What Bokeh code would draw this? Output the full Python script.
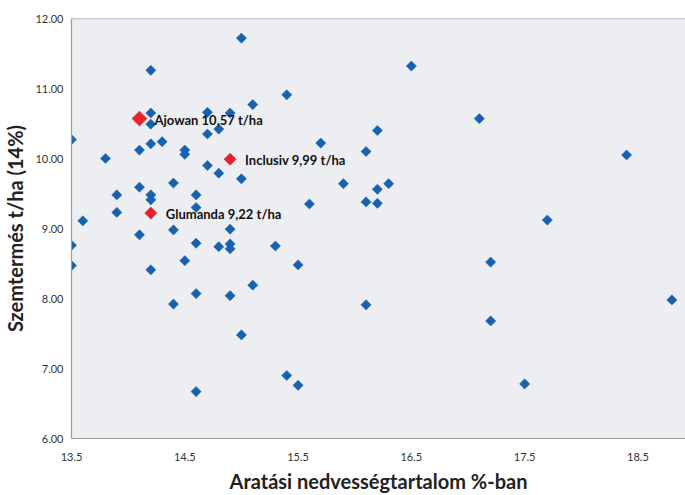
import numpy as np
from bokeh.plotting import figure
from bokeh.models import Range1d, FixedTicker, NumeralTickFormatter, Span, ColumnDataSource
from bokeh.core.properties import value
from bokeh.embed import file_html
from bokeh.resources import INLINE

# ---- data ----
moisture = [15.0, 14.2, 16.5, 15.4, 15.1, 14.7, 14.9, 14.2, 14.2, 17.1,
            14.8, 14.7, 16.2, 13.5, 14.2, 14.3, 15.7, 14.1, 14.5, 14.5,
            16.1, 18.4, 13.8, 14.7, 14.8, 15.0, 15.9, 16.3, 16.2, 14.4,
            14.1, 13.9, 14.2, 14.6, 14.2, 15.6, 16.1, 16.2, 14.6, 13.9,
            17.7, 13.6, 14.9, 14.4, 14.1, 14.6, 13.5, 14.9, 14.9, 14.8,
            15.3, 14.5, 17.2, 13.5, 15.5, 14.2, 15.1, 14.6, 14.9, 14.4,
            16.1, 18.8, 17.2, 15.0, 15.4, 15.5, 17.5, 14.6]
yield_t = [11.72, 11.26, 11.32, 10.91, 10.77, 10.66, 10.65, 10.65, 10.49, 10.57,
           10.42, 10.35, 10.40, 10.27, 10.21, 10.24, 10.22, 10.12, 10.12, 10.06,
           10.10, 10.05, 10.00, 9.90, 9.79, 9.71, 9.64, 9.64, 9.56, 9.65,
           9.59, 9.48, 9.48, 9.48, 9.41, 9.35, 9.38, 9.36, 9.30, 9.23,
           9.12, 9.11, 8.99, 8.98, 8.91, 8.79, 8.76, 8.78, 8.71, 8.74,
           8.75, 8.54, 8.52, 8.47, 8.48, 8.41, 8.19, 8.07, 8.04, 7.92,
           7.91, 7.98, 7.68, 7.48, 6.90, 6.76, 6.78, 6.67]

hl_names = ["Ajowan", "Inclusiv", "Glumanda"]
hl_moisture = [14.1, 14.9, 14.2]
hl_yield = [10.57, 9.99, 9.22]
hl_labels = ["Ajowan 10,57 t/ha", "Inclusiv 9,99 t/ha", "Glumanda 9,22 t/ha"]
hl_sizes = [10.5, 8.5, 8.5]

x_ticks = [13.5, 14.5, 15.5, 16.5, 17.5, 18.5]
y_ticks = [6, 7, 8, 9, 10, 11, 12]

FONT = "Lato"

p = figure(width=685, height=495,
           x_range=Range1d(13.5, 18.92), y_range=Range1d(6, 12),
           min_border_left=71, min_border_right=0, min_border_top=18, min_border_bottom=56,
           output_backend="svg", toolbar_location=None)

p.background_fill_color = "#EDEEF2"
p.border_fill_color = "white"
p.outline_line_color = None
p.xgrid.visible = False
p.ygrid.visible = False

p.add_layout(Span(location=12, dimension="width", line_color="#A8A8A8", line_width=1.5))

blue = ColumnDataSource(dict(x=moisture, y=yield_t))
p.scatter("x", "y", source=blue, marker="square", size=7.2, angle=np.pi / 4,
          fill_color="#1662B0", line_color="#1662B0", line_width=0.5)

red = ColumnDataSource(dict(x=hl_moisture, y=hl_yield, s=hl_sizes, t=hl_labels))
p.scatter("x", "y", source=red, marker="square", size="s", angle=np.pi / 4,
          fill_color="#E8212B", line_color="#C8202A", line_width=0.6)
p.text("x", "y", text="t", source=red, x_offset=15, y_offset=1,
       text_font=value(FONT), text_font_style="bold", text_font_size="13px",
       text_baseline="middle", text_align="left", text_color="#111111")

for ax in (p.xaxis[0], p.yaxis[0]):
    ax.axis_line_color = "#9A9A9A"
    ax.axis_line_width = 1.2
    ax.major_tick_line_color = None
    ax.minor_tick_line_color = None
    ax.major_tick_out = 0
    ax.major_tick_in = 0
    ax.minor_tick_out = 0
    ax.minor_tick_in = 0
    ax.major_label_text_font = FONT
    ax.major_label_text_font_size = "11px"
    ax.major_label_text_color = "#333333"
    ax.axis_label_text_font = FONT
    ax.axis_label_text_font_style = "bold"
    ax.axis_label_text_color = "#222222"

p.xaxis.ticker = FixedTicker(ticks=x_ticks)
p.xaxis.formatter = NumeralTickFormatter(format="0.0")
p.xaxis.major_label_standoff = 14
p.xaxis.axis_label = "Aratási nedvességtartalom %-ban"
p.xaxis.axis_label_text_font_size = "20px"
p.xaxis.axis_label_standoff = 5

p.yaxis.ticker = FixedTicker(ticks=y_ticks)
p.yaxis.formatter = NumeralTickFormatter(format="0.00")
p.yaxis.major_label_standoff = 8
p.yaxis.axis_label = "Szemtermés t/ha (14%)"
p.yaxis.axis_label_text_font_size = "20px"
p.yaxis.axis_label_standoff = 5

open("out.html", "w").write(file_html(p, INLINE))
